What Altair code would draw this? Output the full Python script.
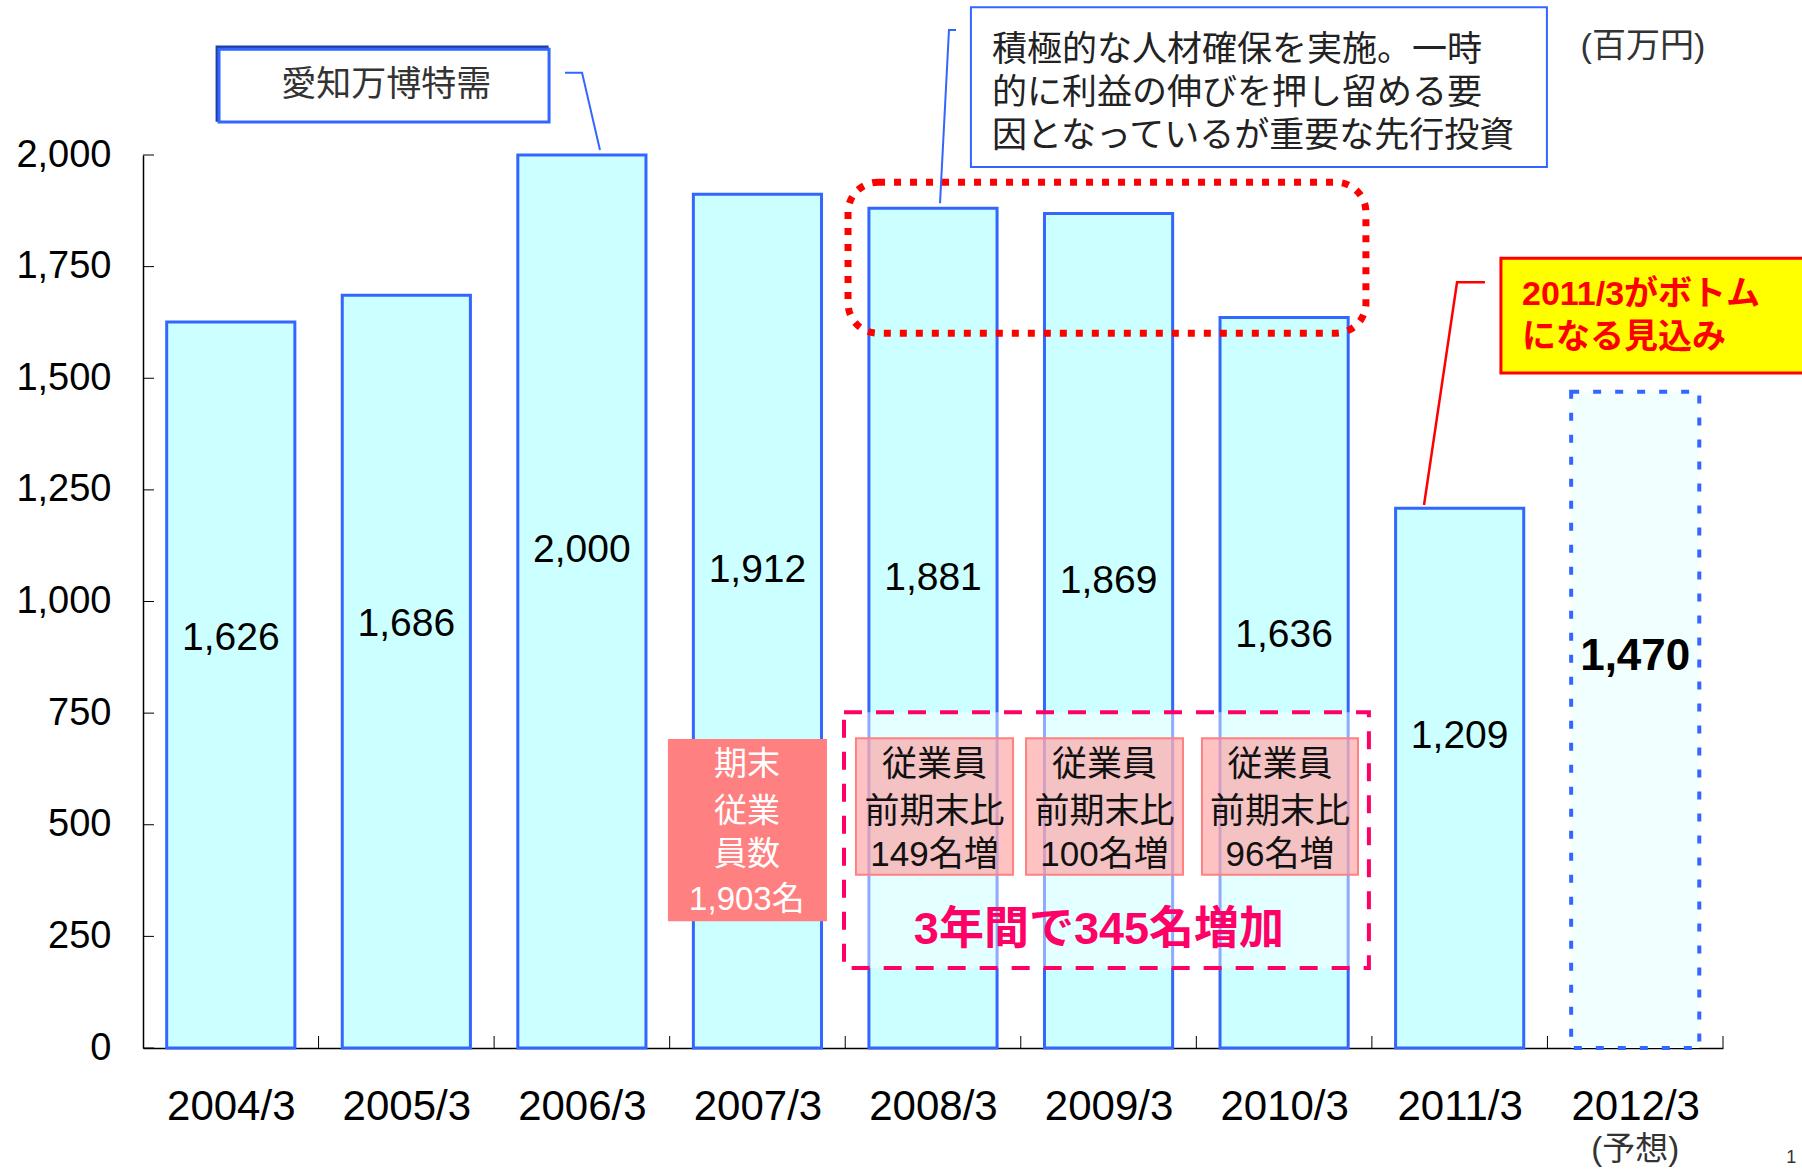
import json
import altair as alt
import pandas as pd

# ---------------- data ----------------
categories = ["2004/3", "2005/3", "2006/3", "2007/3", "2008/3",
              "2009/3", "2010/3", "2011/3", "2012/3"]
values = [1626, 1686, 2000, 1912, 1881, 1869, 1636, 1209, 1470]
is_forecast = [False, False, False, False, False, False, False, False, True]
y_tick_values = [0, 250, 500, 750, 1000, 1250, 1500, 1750, 2000]
x_tick_positions = [1, 2, 3, 4, 5, 6, 7, 8, 9]

unit_label = "(百万円)"
forecast_note = "(予想)"
aichi_text = "愛知万博特需"
invest_lines = ["積極的な人材確保を実施。一時",
                "的に利益の伸びを押し留める要",
                "因となっているが重要な先行投資"]
bottom_lines = ["2011/3がボトム", "になる見込み"]
headcount_lines = ["期末", "従業", "員数", "1,903名"]
increase_values = ["149名増", "100名増", "96名増"]
total_increase = "3年間で345名増加"

W, H = 1580, 893
FONT = "Liberation Sans"
MIX = "Liberation Sans, Noto Sans CJK JP"
JP = "Noto Sans CJK JP"
BLUE = "#3366FF"

XS = alt.Scale(domain=[0, 9], nice=False, zero=False)
YS = alt.Scale(domain=[0, 2000], nice=False, zero=False)

X_AXIS = alt.Axis(
    values=[i + 0.5 for i in range(len(categories))],
    labelExpr=json.dumps(categories) + "[floor(datum.value)]",
    ticks=False, tickSize=0, grid=False, domain=True, domainColor="#000000",
    domainWidth=1.5, labelFont=FONT, labelFontSize=42, labelColor="#000000",
    labelPadding=58, labelBaseline="middle", labelFlush=False,
    labelOverlap=False, title=None,
)
Y_AXIS = alt.Axis(
    values=y_tick_values, labelExpr="format(datum.value, ',')",
    ticks=False, tickSize=0, grid=False,
    domain=True, domainColor="#000000", domainWidth=1.5, labelFont=FONT,
    labelFontSize=38, labelColor="#000000", labelPadding=32, title=None,
    labelOverlap=False, labelFlush=False,
)


def xq(f):
    return alt.X(f, type="quantitative", scale=XS, axis=X_AXIS)


def yq(f):
    return alt.Y(f, type="quantitative", scale=YS, axis=Y_AXIS)


df = pd.DataFrame({"cat": categories, "value": values, "forecast": is_forecast})
df["idx"] = list(range(len(categories)))

base = alt.Chart(df).transform_calculate(
    xc="datum.idx + 0.5",
    x0="datum.idx + 0.135",
    x1="datum.idx + 0.865",
    ylab="datum.forecast ? datum.value * 0.59 + 8 : datum.value * 0.527 + 62",
    zero="0",
)

bars = base.transform_filter("!datum.forecast").mark_rect(
    fill="#CCFFFF", stroke=BLUE, strokeWidth=3
).encode(x=xq("x0"), x2=alt.X2("x1:Q"), y=yq("value"), y2=alt.Y2("zero:Q"))

fbar = base.transform_filter("datum.forecast").mark_rect(
    fill="#F2FFFF", stroke=BLUE, strokeWidth=4, strokeDash=[8, 14]
).encode(x=xq("x0"), x2=alt.X2("x1:Q"), y=yq("value"), y2=alt.Y2("zero:Q"))

labels = base.transform_filter("!datum.forecast").mark_text(
    font=FONT, fontSize=39, color="#000000", baseline="middle", align="center"
).encode(x=xq("xc"), y=yq("ylab"), text=alt.Text("value:Q", format=","))

flabel = base.transform_filter("datum.forecast").mark_text(
    font=FONT, fontSize=44, fontWeight="bold", color="#000000",
    baseline="middle", align="center"
).encode(x=xq("xc"), y=yq("ylab"), text=alt.Text("value:Q", format=","))

# inward tick marks
ytick_df = pd.DataFrame({"v": y_tick_values})
yticks = alt.Chart(ytick_df).mark_rule(color="#000000", strokeWidth=1).encode(
    y=yq("v"), x=alt.value(0), x2=alt.value(11))
xtick_df = pd.DataFrame({"p": x_tick_positions})
xticks = alt.Chart(xtick_df).mark_rule(color="#000000", strokeWidth=1).encode(
    x=xq("p"), y=alt.value(H), y2=alt.value(H - 12))


def rect_layer(rows, **mark):
    return alt.Chart(pd.DataFrame(rows)).mark_rect(**mark).encode(
        x=xq("x0"), x2=alt.X2("x1:Q"), y=yq("y0"), y2=alt.Y2("y1:Q"))


def text_layer(rows, **mark):
    return alt.Chart(pd.DataFrame(rows)).mark_text(**mark).encode(
        x=xq("x"), y=yq("y"), text="t:N")


def line_layer(pts, color, width):
    return alt.Chart(pd.DataFrame(pts)).mark_line(
        color=color, strokeWidth=width).encode(
        x=xq("x"), y=yq("y"), order="k:Q")


# red dotted rounded rectangle around 2008-2010
red_dotted = rect_layer(
    [{"x0": 4.016, "x1": 6.966, "y0": 1939, "y1": 1601}],
    fill="#FFFFFF", fillOpacity=0, stroke="#FF0000", strokeWidth=7,
    strokeDash=[7, 9], cornerRadius=30)

# pink dashed rectangle (semi-white fill)
pink_dashed = rect_layer(
    [{"x0": 3.993, "x1": 6.983, "y0": 752, "y1": 179}],
    fill="#FFFFFF", fillOpacity=0.45, stroke="#FF0066", strokeWidth=4,
    strokeDash=[18, 14])

headcount_box = rect_layer(
    [{"x0": 2.99, "x1": 3.896, "y0": 692, "y1": 284}], fill="#FF8080")
headcount_y = [634, 529, 432, 331]
headcount_text = text_layer(
    [{"x": 3.44, "y": yy, "t": t} for yy, t in zip(headcount_y, headcount_lines)],
    font=MIX, fontSize=33, color="#FFFFFF", align="center", baseline="middle")

inc_x = [(4.061, 4.956), (5.030, 5.924), (6.032, 6.921)]
inc_boxes = rect_layer(
    [{"x0": a, "x1": b, "y0": 694, "y1": 388} for a, b in inc_x],
    fill="#FF9999", fillOpacity=0.6, stroke="#FF8080", strokeWidth=2)
inc_rows = []
for (a, b), inc in zip(inc_x, increase_values):
    c = (a + b) / 2
    for yy, t in zip([634, 529, 432], ["従業員", "前期末比", inc]):
        inc_rows.append({"x": c, "y": yy, "t": t})
inc_text = text_layer(inc_rows, font=MIX, fontSize=35, color="#111111",
                      align="center", baseline="middle")

total_text = text_layer([{"x": 5.445, "y": 264, "t": total_increase}],
                        font=MIX, fontSize=45, fontWeight="bold",
                        color="#FF0066", align="center", baseline="middle")

# Aichi Expo callout
aichi_shadow = rect_layer([{"x0": 0.422, "x1": 2.302, "y0": 2242, "y1": 2078}],
                          fill="#FFFFFF", stroke="#1F3FA8", strokeWidth=3)
aichi_box = rect_layer([{"x0": 0.433, "x1": 2.313, "y0": 2237, "y1": 2074}],
                       fill="#FFFFFF", stroke=BLUE, strokeWidth=3)
aichi_txt = text_layer([{"x": 1.385, "y": 2157, "t": aichi_text}],
                       font=JP, fontSize=35, color="#333333",
                       align="center", baseline="middle")
aichi_line = line_layer([{"x": 2.404, "y": 2184, "k": 0},
                         {"x": 2.501, "y": 2184, "k": 1},
                         {"x": 2.603, "y": 2011, "k": 2}], BLUE, 2)

# investment callout (one multi-line text)
inv_box = rect_layer([{"x0": 4.716, "x1": 7.997, "y0": 2331, "y1": 1973}],
                     fill="#FFFFFF", stroke=BLUE, strokeWidth=2)
inv_txt = text_layer(
    [{"x": 4.836, "y": 2235, "t": "\n".join(invest_lines)}],
    font=JP, fontSize=35, color="#222222", align="left", baseline="middle",
    lineBreak="\n", lineHeight=43)
inv_line = line_layer([{"x": 4.631, "y": 2280, "k": 0},
                       {"x": 4.591, "y": 2280, "k": 1},
                       {"x": 4.540, "y": 1892, "k": 2}], BLUE, 2)

# bottom callout (yellow)
yel_box = rect_layer([{"x0": 7.735, "x1": 9.5, "y0": 1769, "y1": 1512}],
                     fill="#FFFF00", stroke="#FF0000", strokeWidth=3)
yel_txt = text_layer(
    [{"x": 7.855, "y": yy, "t": t} for yy, t in zip([1686, 1590], bottom_lines)],
    font=MIX, fontSize=34, fontWeight="bold", color="#FF0000",
    align="left", baseline="middle")
yel_line = line_layer([{"x": 7.644, "y": 1715, "k": 0},
                       {"x": 7.485, "y": 1715, "k": 1},
                       {"x": 7.297, "y": 1216, "k": 2}], "#FF0000", 2.5)

unit_txt = text_layer([{"x": 8.544, "y": 2242, "t": unit_label}],
                      font=MIX, fontSize=34, color="#333333",
                      align="center", baseline="middle")
note_txt = text_layer([{"x": 8.5, "y": -228, "t": forecast_note}],
                      font=MIX, fontSize=33, color="#333333",
                      align="center", baseline="middle")
page_txt = text_layer([{"x": 9.36, "y": -246, "t": "1"}],
                      font=FONT, fontSize=18, color="#333333",
                      align="left", baseline="middle")

chart = alt.layer(
    bars, fbar, labels, flabel, yticks, xticks,
    red_dotted, pink_dashed, headcount_box, headcount_text,
    inc_boxes, inc_text, total_text,
    aichi_shadow, aichi_box, aichi_txt, aichi_line,
    inv_box, inv_txt, inv_line,
    yel_box, yel_txt, yel_line,
    unit_txt, note_txt, page_txt,
).properties(
    width=W, height=H,
    padding={"left": 143, "top": 155, "right": 79, "bottom": 125},
    autosize=alt.AutoSizeParams(type="none"),
    background="#FFFFFF",
).configure_view(stroke=None)

chart.save("out.html", embed_options={"renderer": "svg", "actions": False})
